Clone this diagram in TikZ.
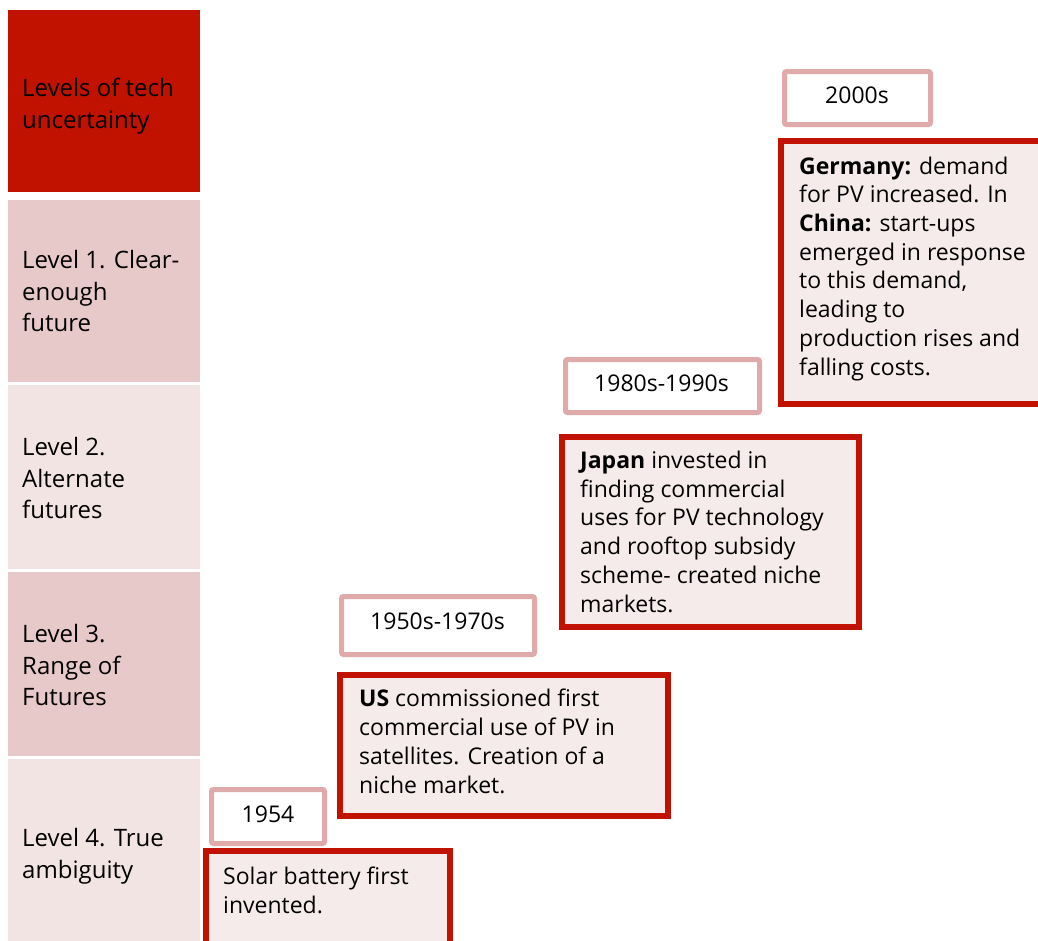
\documentclass[tikz,border=0pt]{standalone}
\usepackage{fontspec}
\setmainfont{Open Sans}

\definecolor{hdrred}{RGB}{193,18,0}
\definecolor{boxred}{RGB}{193,18,0}
\definecolor{lvldark}{RGB}{232,201,201}
\definecolor{lvllight}{RGB}{243,228,228}
\definecolor{boxfill}{RGB}{246,235,235}
\definecolor{datepink}{RGB}{225,170,170}

\tikzset{
  leveltext/.style={anchor=base west, align=left, inner sep=0pt, font=\fontsize{24}{31.5}\selectfont},
  datebox/.style={draw=datepink, line width=5pt, fill=white, rounded corners=2pt},
  datetext/.style={anchor=base, inner sep=0pt, font=\fontsize{23}{28.7}\selectfont},
  eventbox/.style={draw=boxred, line width=6pt, fill=boxfill},
  eventtext/.style={anchor=base west, align=left, inner sep=0pt, font=\fontsize{23}{28.7}\selectfont}
}

\begin{document}
\begin{tikzpicture}[x=1pt, y=-1pt]
    \useasboundingbox (0,0) rectangle (1038,940);
    \clip (0,0) rectangle (1038,940);

    % level column (text placed at baseline of last line)
    \fill[hdrred] (8,10) rectangle (200,192);
    \fill[lvldark] (8,200) rectangle (200,382);
    \fill[lvllight] (8,385) rectangle (200,569);
    \fill[lvldark] (8,572) rectangle (200,756);
    \fill[lvllight] (8,759) rectangle (200,950);
    \node[leveltext] (header) at (22,128) {Levels of tech\\uncertainty};
    \node[leveltext] (level1) at (22,331.5) {Level 1. Clear-\\enough\\future};
    \node[leveltext] (level2) at (22,518.5) {Level 2.\\Alternate\\futures};
    \node[leveltext] (level3) at (22,705.5) {Level 3.\\Range of\\Futures};
    \node[leveltext] (level4) at (22,878) {Level 4. True\\ambiguity};

    % dates
    \draw[datebox] (784.5,71.5) rectangle (930.5,124.5);
    \node[datetext] (d2000) at (857,103.3) {2000s};
    \draw[datebox] (565.5,359.5) rectangle (759.5,412.5);
    \node[datetext] (d1980) at (661.5,391.7) {1980s-1990s};
    \draw[datebox] (341.5,596.5) rectangle (534.5,654.5);
    \node[datetext] (d1950) at (437.5,629) {1950s-1970s};
    \draw[datebox] (211.5,789.5) rectangle (324.5,843.5);
    \node[datetext] (d1954) at (268,822.7) {1954};

    % events
    \draw[eventbox] (781,141) rectangle (1060,404);
    \node[eventtext] (germany) at (799,375) {\textbf{Germany:} demand\\for PV increased. In\\\textbf{China:} start-ups\\emerged in response\\to this demand,\\leading to\\production rises and\\falling costs.};
    \draw[eventbox] (562,437) rectangle (859,627);
    \node[eventtext] (japan) at (580,612) {\textbf{Japan} invested in\\finding commercial\\uses for PV technology\\and rooftop subsidy\\scheme- created niche\\markets.};
    \draw[eventbox] (340,675) rectangle (668,816);
    \node[eventtext] (us) at (359,793) {\textbf{US} commissioned first\\commercial use of PV in\\satellites. Creation of a\\niche market.};
    \draw[eventbox] (206,851) rectangle (450,970);
    \node[eventtext] (solar) at (223,913) {Solar battery first\\invented.};
\end{tikzpicture}
\end{document}
